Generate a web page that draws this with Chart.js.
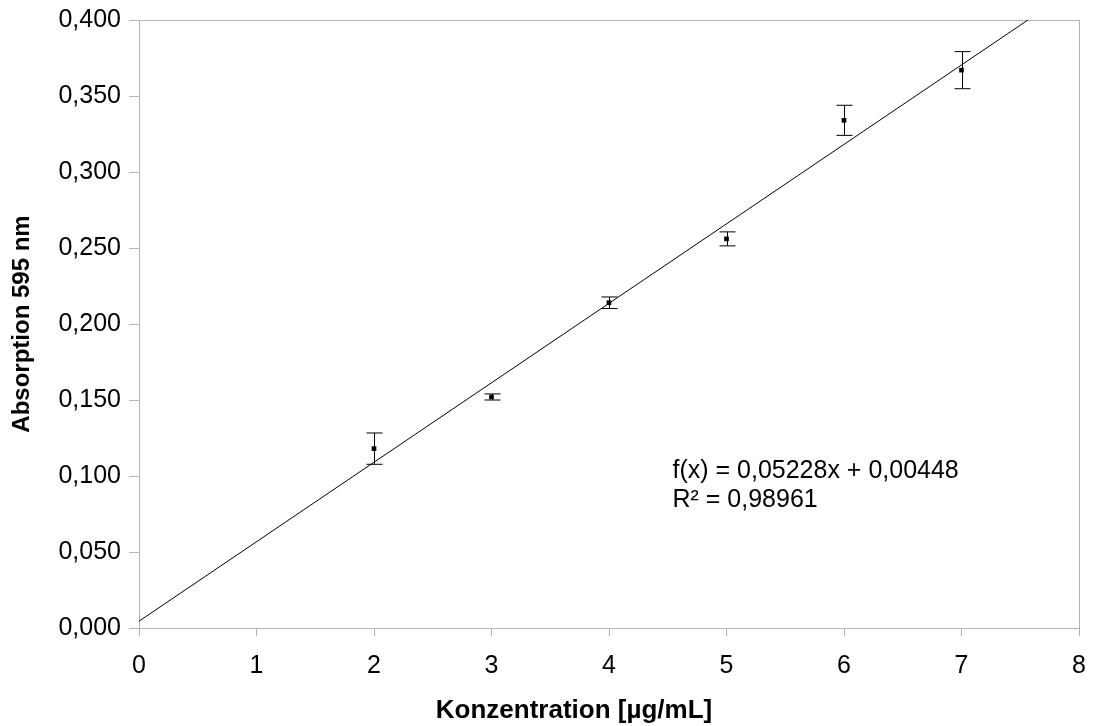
<!DOCTYPE html>
<html>
<head>
<meta charset="utf-8">
<script src="https://cdn.jsdelivr.net/npm/chart.js@4/dist/chart.umd.min.js"></script>
<style>
  html, body { margin: 0; padding: 0; background: #fff; }
  #wrap { width: 1093px; height: 726px; }
</style>
</head>
<body>
<div id="wrap"><canvas id="c" width="1093" height="726"></canvas></div>
<script>
// Calibration data: concentration (µg/mL) vs. absorbance at 595 nm
const concentrations = [2, 3, 4, 5, 6, 7];
const absorbance     = [0.118, 0.152, 0.214, 0.256, 0.334, 0.367];
const stdDev         = [0.0103, 0.0020, 0.0038, 0.0046, 0.0099, 0.0122];

// Linear regression result
const slope = 0.05228;
const intercept = 0.00448;
const rSquared = 0.98961;
const fitRange = [0, 8];

const xTicks = [0, 1, 2, 3, 4, 5, 6, 7, 8];
const yTicks = [0, 0.05, 0.1, 0.15, 0.2, 0.25, 0.3, 0.35, 0.4];

const xTitle = 'Konzentration [µg/mL]';
const yTitle = 'Absorption 595 nm';

const FONT = '"Liberation Sans", Arial, sans-serif';
const AXIS_GREY = '#b3b3b3';

const fmt = (v, d) => v.toFixed(d).replace('.', ',');

// Error bars (± standard deviation) with caps
const errorBars = {
  id: 'errorBars',
  afterDatasetsDraw(chart) {
    const { ctx, scales: { x, y } } = chart;
    ctx.save();
    ctx.strokeStyle = '#000';
    ctx.lineWidth = 1;
    concentrations.forEach((cx, i) => {
      const px = Math.round(x.getPixelForValue(cx)) + 0.5;
      const top = y.getPixelForValue(absorbance[i] + stdDev[i]);
      const bot = y.getPixelForValue(absorbance[i] - stdDev[i]);
      ctx.beginPath();
      ctx.moveTo(px, top); ctx.lineTo(px, bot);
      ctx.moveTo(px - 8, top); ctx.lineTo(px + 8, top);
      ctx.moveTo(px - 8, bot); ctx.lineTo(px + 8, bot);
      ctx.stroke();
    });
    ctx.restore();
  }
};

// Frame around the plot area
const frame = {
  id: 'frame',
  beforeDatasetsDraw(chart) {
    const { ctx, chartArea: a } = chart;
    ctx.save();
    ctx.strokeStyle = AXIS_GREY;
    ctx.lineWidth = 1;
    ctx.strokeRect(Math.round(a.left) + 0.5, Math.round(a.top) + 0.5,
                   Math.round(a.right - a.left), Math.round(a.bottom - a.top));
    ctx.restore();
  }
};

// Regression equation and x-axis title
const annotations = {
  id: 'annotations',
  afterDraw(chart) {
    const { ctx, scales: { x, y } } = chart;
    ctx.save();
    ctx.fillStyle = '#000';
    ctx.textBaseline = 'alphabetic';

    ctx.font = '25px ' + FONT;
    ctx.textAlign = 'left';
    const px = x.getPixelForValue(4.54);
    const py = y.getPixelForValue(0.0987);
    ctx.fillText('f(x) = ' + fmt(slope, 5) + 'x + ' + fmt(intercept, 5), px, py);
    ctx.fillText('R² = ' + fmt(rSquared, 5), px, py + 29);

    // x-axis title, set slightly left of the plot centre
    ctx.font = 'bold 26px ' + FONT;
    ctx.textAlign = 'center';
    ctx.fillText(xTitle, 574, chart.height - 8);
    ctx.restore();
  }
};

new Chart(document.getElementById('c'), {
  type: 'scatter',
  data: {
    datasets: [
      {
        label: 'Messwerte',
        data: concentrations.map((c, i) => ({ x: c, y: absorbance[i] })),
        pointStyle: 'rect',
        pointRadius: 3.3,
        backgroundColor: '#000',
        borderColor: '#000',
        borderWidth: 0,
        order: 1
      },
      {
        label: 'Regression',
        type: 'line',
        data: fitRange.map(v => ({ x: v, y: slope * v + intercept })),
        borderColor: '#000',
        borderWidth: 1,
        pointRadius: 0,
        fill: false,
        order: 2
      }
    ]
  },
  options: {
    responsive: false,
    animation: false,
    devicePixelRatio: 1,
    layout: { padding: { top: 20, right: 14, left: 0, bottom: 0 } },
    plugins: {
      legend: { display: false },
      tooltip: { enabled: false }
    },
    scales: {
      x: {
        type: 'linear',
        min: 0, max: 8,
        afterBuildTicks: s => { s.ticks = xTicks.map(v => ({ value: v })); },
        afterFit: s => { s.height = 98; s.paddingLeft = 0; s.paddingRight = 0; },
        border: { display: true, color: AXIS_GREY },
        grid: { drawOnChartArea: false, drawTicks: true, tickLength: 8, color: AXIS_GREY },
        ticks: { color: '#000', font: { family: FONT, size: 25 }, padding: 15, callback: v => String(v) },
        title: { display: false }
      },
      y: {
        type: 'linear',
        min: 0, max: 0.4,
        afterBuildTicks: s => { s.ticks = yTicks.map(v => ({ value: v })); },
        afterFit: s => { s.width = 139; s.paddingTop = 0; s.paddingBottom = 0; },
        border: { display: true, color: AXIS_GREY },
        grid: { drawOnChartArea: false, drawTicks: true, tickLength: 10, color: AXIS_GREY },
        ticks: { color: '#000', font: { family: FONT, size: 25 }, padding: 8, callback: v => fmt(v, 3) },
        title: { display: true, text: yTitle, color: '#000',
                 font: { family: FONT, size: 24, weight: 'bold' }, padding: { top: 8, bottom: 6 } }
      }
    }
  },
  plugins: [frame, errorBars, annotations]
});
</script>
</body>
</html>
